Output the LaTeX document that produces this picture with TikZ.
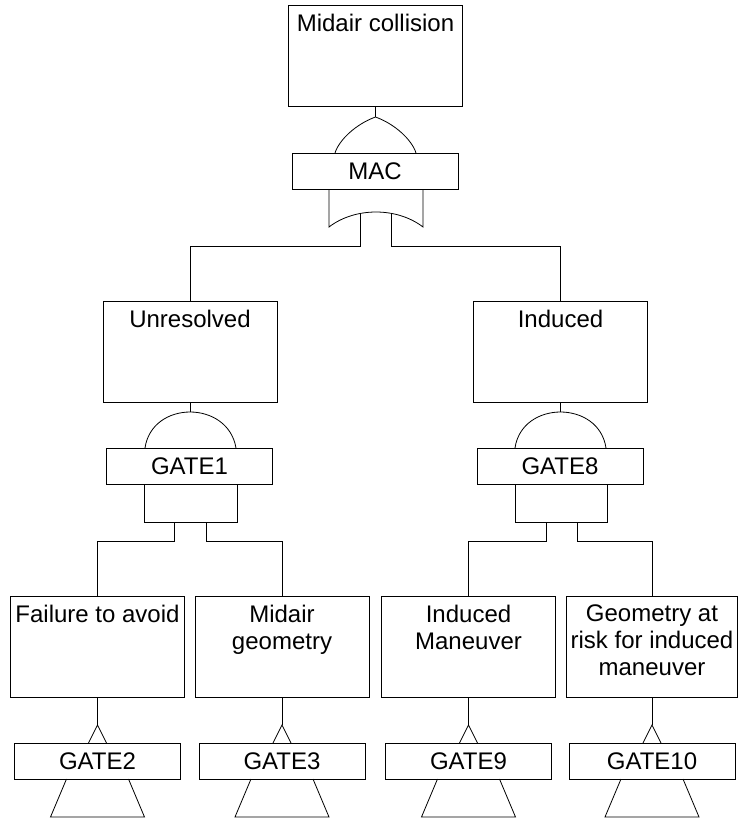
\documentclass[tikz,border=0pt]{standalone}
\usepackage{fontspec}
\setmainfont{Liberation Sans}
\tikzset{
  evbox/.style={draw, rectangle, minimum width=174pt, minimum height=101pt, inner sep=0pt},
  evtext/.style={anchor=north, align=center, inner sep=0pt, font=\fontsize{24}{27}\selectfont},
  gatebox/.style={draw, rectangle, minimum width=166pt, minimum height=36pt, inner sep=0pt, font=\fontsize{24}{27}\selectfont},
}
\begin{document}
\begin{tikzpicture}[x=1pt, y=-1pt, line width=0.8pt]
\useasboundingbox (0,0) rectangle (738,820);
\node[evbox] (ev0) at (375.5,56){};
\node[evtext] (tx0) at ([yshift=-9pt]ev0.north){Midair collision};
\node[gatebox] (g0) at (375,171){MAC};
\coordinate (g0top) at (375.5,117);
\draw[](ev0.south) -- (g0top);
\draw[](g0top) .. controls (356,124) and (339,140) .. (335,153);
\draw[](g0top) .. controls (395,124) and (412,140) .. (416,153);
\draw[](329,189) -- (329,227) .. controls (355,207) and (397,207) .. (423,227) -- (423,189);
\coordinate (g0o1) at (360,214);
\coordinate (g0o2) at (391,214);
\node[evbox] (ev1) at (190,351.5){};
\node[evtext] (tx1) at ([yshift=-9pt]ev1.north){Unresolved};
\node[evbox] (ev2) at (560.5,351.5){};
\node[evtext] (tx2) at ([yshift=-9pt]ev2.north){Induced};
\draw[](g0o1) -- ++(0,32) -| (ev1.north);
\draw[](g0o2) -- ++(0,32) -| (ev2.north);
\node[gatebox] (g1) at (189.5,466){GATE1};
\coordinate (g1top) at (190,411.5);
\draw[](ev1.south) -- (g1top);
\draw[](145,448) .. controls (152,400) and (228,400) .. (236,448);
\draw[](144,484) -- (144,522) -- (237,522) -- (237,484);
\coordinate (g1o1) at (174,522);
\coordinate (g1o2) at (206,522);
\node[gatebox] (g2) at (560,466){GATE8};
\coordinate (g2top) at (560.5,411.5);
\draw[](ev2.south) -- (g2top);
\draw[](515,448) .. controls (522,400) and (599,400) .. (606,448);
\draw[](515,484) -- (515,522) -- (607,522) -- (607,484);
\coordinate (g2o1) at (546,522);
\coordinate (g2o2) at (577,522);
\node[evbox] (ev3) at (97.5,646.5){};
\node[evtext] (tx3) at ([yshift=-9pt]ev3.north){Failure to avoid};
\node[evbox] (ev4) at (282,646.5){};
\node[evtext] (tx4) at ([yshift=-9pt]ev4.north){Midair\\geometry};
\node[evbox] (ev5) at (468.5,646.5){};
\node[evtext] (tx5) at ([yshift=-9pt]ev5.north){Induced\\Maneuver};
\node[evbox, minimum width=171pt] (ev6) at (652,646.5){};
\node[evtext] (tx6) at ([yshift=-9pt]ev6.north){Geometry at\\risk for induced\\maneuver};
\draw[](g1o1) -- ++(0,19) -| (ev3.north);
\draw[](g1o2) -- ++(0,19) -| (ev4.north);
\draw[](g2o1) -- ++(0,19) -| (ev5.north);
\draw[](g2o2) -- ++(0,19) -| (ev6.north);
\node[gatebox] (t3) at (97.5,761){GATE2};
\coordinate (t3top) at (97.5,725);
\draw[](ev3.south) -- (t3top);
\draw[](88.5,743) -- (t3top) -- (106.5,743);
\draw[](66.5,779) -- (50.5,817) -- (144.5,817) -- (128.5,779);
\node[gatebox] (t4) at (282,761){GATE3};
\coordinate (t4top) at (282,725);
\draw[](ev4.south) -- (t4top);
\draw[](273,743) -- (t4top) -- (291,743);
\draw[](251,779) -- (235,817) -- (329,817) -- (313,779);
\node[gatebox] (t5) at (468.5,761){GATE9};
\coordinate (t5top) at (468.5,725);
\draw[](ev5.south) -- (t5top);
\draw[](459.5,743) -- (t5top) -- (477.5,743);
\draw[](437.5,779) -- (421.5,817) -- (515.5,817) -- (499.5,779);
\node[gatebox] (t6) at (652,761){GATE10};
\coordinate (t6top) at (652,725);
\draw[](ev6.south) -- (t6top);
\draw[](643,743) -- (t6top) -- (661,743);
\draw[](621,779) -- (605,817) -- (699,817) -- (683,779);
\end{tikzpicture}
\end{document}
